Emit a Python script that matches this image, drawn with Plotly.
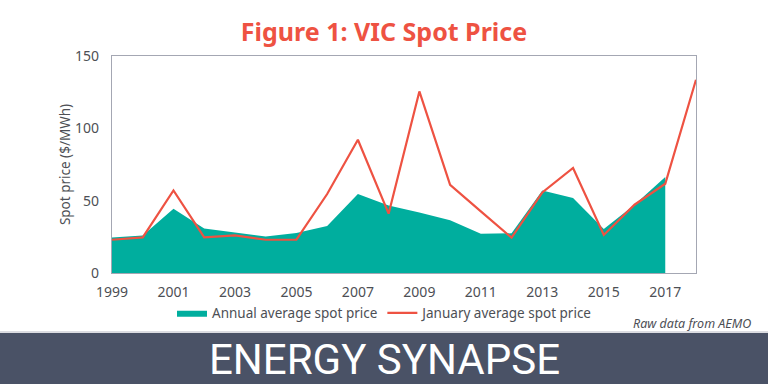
import plotly.graph_objects as go

years = list(range(1999, 2019))
annual_years = list(range(1999, 2018))
annual_avg = [24.6, 26.0, 44.4, 30.8, 28.0, 25.3, 27.6, 32.5, 54.6, 46.7,
              41.9, 36.4, 27.2, 27.4, 57.1, 51.8, 30.4, 47.2, 66.3]
january_avg = [23.0, 24.6, 57.1, 24.6, 26.0, 23.0, 23.0, 54.6, 92.1, 41.0,
               125.5, 61.0, 42.6, 24.4, 55.7, 72.6, 26.3, 47.2, 61.7, 133.6]
x_ticks = list(range(1999, 2018, 2))
y_ticks = [0, 50, 100, 150]

TEAL = "#00ae9e"
RED = "#ee5242"
GREY = "#4d4f55"
FONT = "Noto Sans"

fig = go.Figure()
fig.add_trace(go.Scatter(
    x=annual_years, y=annual_avg, mode="lines", fill="tozeroy",
    fillcolor=TEAL, line=dict(width=0, color=TEAL),
    name="Annual average spot price"))
fig.add_trace(go.Scatter(
    x=years, y=january_avg, mode="lines",
    line=dict(width=2.2, color=RED),
    name="January average spot price"))

L, R, T, B = 112, 72, 56, 111
W, H = 768, 384
pw, ph = W - L - R, H - T - B

def px_x(X):
    return (X - L) / pw

def px_y(Y):
    return (H - B - Y) / ph

shapes = [
    dict(type="rect", xref="paper", yref="paper",
         x0=px_x(-2), x1=px_x(W + 2), y0=px_y(H + 2), y1=px_y(333),
         fillcolor="#4a5266", line=dict(width=0), layer="below"),
    dict(type="line", xref="paper", yref="paper",
         x0=px_x(-2), x1=px_x(W + 2), y0=px_y(332), y1=px_y(332),
         line=dict(color="#cfd1d7", width=1.5)),
]

annotations = [
    dict(text="<i>Raw data from AEMO</i>", xref="paper", yref="paper",
         x=px_x(753), y=px_y(323), xanchor="right", yanchor="middle",
         showarrow=False, font=dict(family=FONT, size=12.5, color=GREY)),
    dict(text="ENERGY SYNAPSE", xref="paper", yref="paper",
         x=px_x(384), y=px_y(359), xanchor="center", yanchor="middle",
         showarrow=False, font=dict(family="Roboto", size=42, color="white")),
]

fig.update_layout(
    width=W, height=H,
    margin=dict(l=L, r=R, t=T, b=B),
    paper_bgcolor="white", plot_bgcolor="white",
    title=dict(text="<b>Figure 1: VIC Spot Price</b>", x=0.5, xref="container",
               y=1 - 32 / H, yref="container", xanchor="center", yanchor="middle",
               font=dict(family=FONT, size=25, color=RED)),
    showlegend=True,
    legend=dict(orientation="h", x=px_x(385), y=px_y(313), xanchor="center",
                yanchor="middle", font=dict(family=FONT, size=13.5, color=GREY),
                itemwidth=30, bgcolor="rgba(0,0,0,0)"),
    shapes=shapes, annotations=annotations,
    font=dict(family=FONT, color=GREY),
)
fig.update_xaxes(range=[1999, 2018], tickvals=x_ticks, showgrid=False,
                 showline=True, linecolor="#a4a7b3", linewidth=1.2, mirror=True,
                 ticks="outside", ticklen=6, tickcolor="rgba(0,0,0,0)",
                 tickfont=dict(family=FONT, size=14, color=GREY), zeroline=False)
fig.update_yaxes(range=[0, 150], tickvals=y_ticks, showgrid=False,
                 showline=True, linecolor="#a4a7b3", linewidth=1.2, mirror=True,
                 ticks="outside", ticklen=9, tickcolor="rgba(0,0,0,0)",
                 tickfont=dict(family=FONT, size=14, color=GREY), zeroline=False,
                 title=dict(text="Spot price ($/MWh)", standoff=1,
                            font=dict(family=FONT, size=13.5, color=GREY)))

fig.write_html("out.html", config={"displayModeBar": False},
               post_script="document.body.style.margin='0';document.body.style.overflow='hidden';")
